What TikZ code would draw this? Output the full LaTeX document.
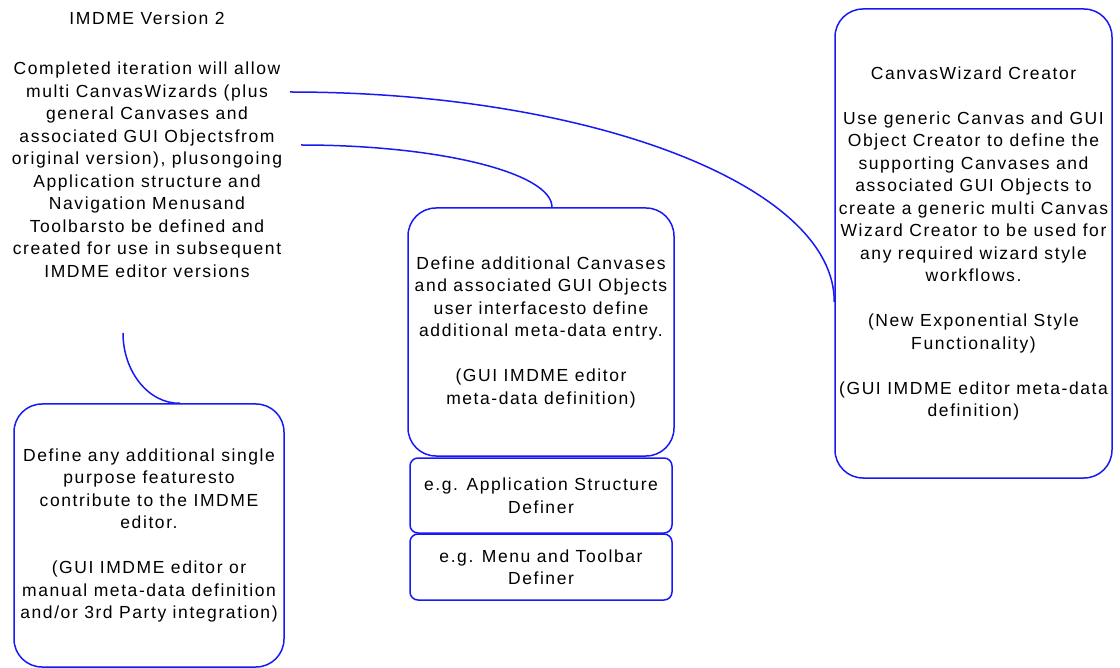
\documentclass[tikz,border=0pt]{standalone}
\usepackage{fontspec}
\setmainfont{Liberation Sans}[LetterSpace=9]
\definecolor{lineblue}{RGB}{25,25,245}
\begin{document}
\begin{tikzpicture}[x=1pt,y=-1pt,
  txt/.style={inner sep=0pt,align=center,font=\fontsize{17.5}{22.5}\selectfont},
  bigbox/.style={txt,draw=lineblue,line width=1.5pt,rounded corners=28pt},
  smallbox/.style={txt,draw=lineblue,line width=1.5pt,rounded corners=8pt},
  link/.style={draw=lineblue,line width=1.5pt}]
\useasboundingbox (0,0) rectangle (1120,668);

% overview text, top left
\node[txt] (intro) at (147,144.5) {IMDME Version 2\\[27.5pt]
  Completed iteration will allow\\
  multi CanvasWizards (plus\\
  general Canvases and\\
  associated GUI Objectsfrom\\
  original version), plusongoing\\
  Application structure and\\
  Navigation Menusand\\
  Toolbarsto be defined and\\
  created for use in subsequent\\
  IMDME editor versions};

% wizard creator
\node[bigbox,minimum width=277pt,minimum height=469pt] (wizard) at (973.5,243.5) {CanvasWizard Creator\\[22.5pt]
  Use generic Canvas and GUI\\
  Object Creator to define the\\
  supporting Canvases and\\
  associated GUI Objects to\\
  create a generic multi Canvas\\
  Wizard Creator to be used for\\
  any required wizard style\\
  workflows.\\[22.5pt]
  (New Exponential Style\\
  Functionality)\\[22.5pt]
  (GUI IMDME editor meta-data\\
  definition)};

% canvases and their definers
\node[bigbox,minimum width=266pt,minimum height=248pt] (canvas) at (541,332) {Define additional Canvases\\
  and associated GUI Objects\\
  user interfacesto define\\
  additional meta-data entry.\\[22.5pt]
  (GUI IMDME editor\\
  meta-data definition)};
\node[smallbox,minimum width=262pt,minimum height=75pt] (appdef) at (541,495.5) {e.g. Application Structure\\ Definer};
\node[smallbox,minimum width=262pt,minimum height=66pt] (menudef) at (541,567) {e.g. Menu and Toolbar\\ Definer};

% single purpose features
\node[bigbox,minimum width=270pt,minimum height=263pt] (single) at (149,535.5) {Define any additional single\\
  purpose featuresto\\
  contribute to the IMDME\\
  editor.\\[22.5pt]
  (GUI IMDME editor or\\
  manual meta-data definition\\
  and/or 3rd Party integration)};

% connectors
\coordinate (s1) at (290,92);
\coordinate (s2) at (301,145);
\coordinate (s3) at (123,333);
\path[link] (s1) .. controls (591,92) and (835,186) .. ([yshift=-58.5pt]wizard.west);
\path[link] (s2) .. controls (440,145) and (552,173) .. ([xshift=11pt]canvas.north);
\path[link] (s3) .. controls (123,372) and (149,404) .. ([xshift=31pt]single.north);
\end{tikzpicture}
\end{document}
